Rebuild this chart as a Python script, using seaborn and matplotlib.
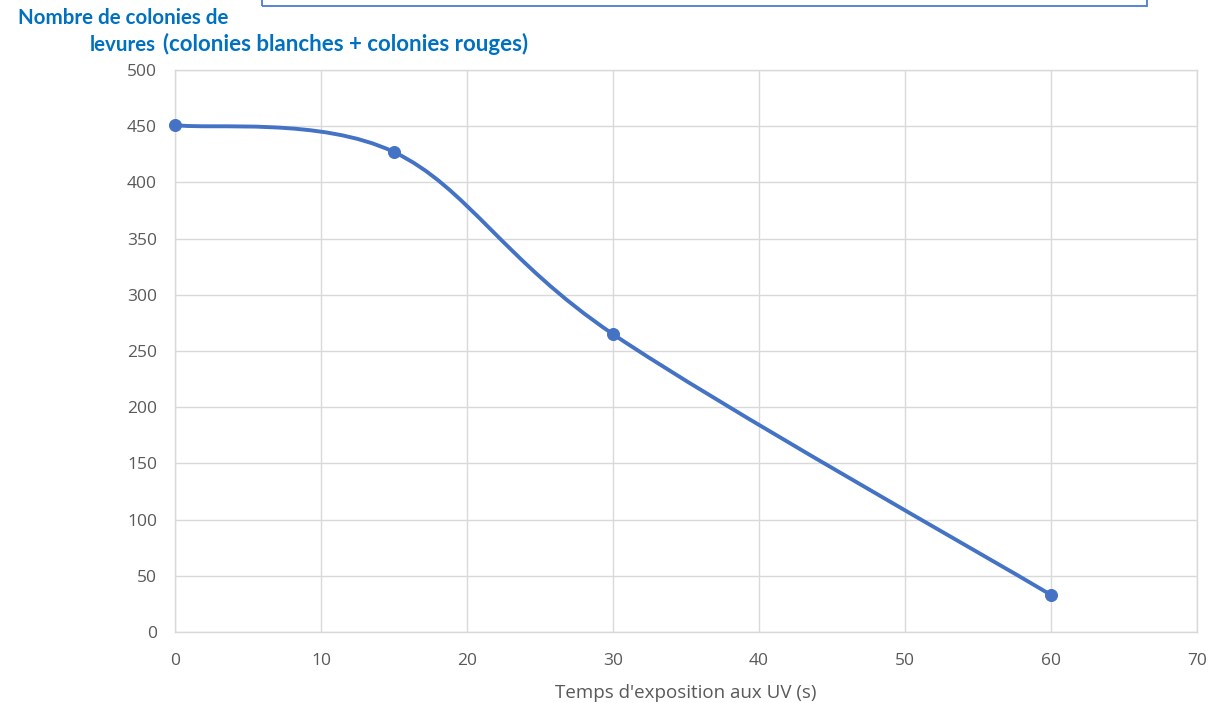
import numpy as np
import matplotlib
matplotlib.use("Agg")
import matplotlib.pyplot as plt
from matplotlib.path import Path
from matplotlib.patches import PathPatch, Rectangle
import seaborn as sns

# donnees
temps = [0, 15, 30, 60]
colonies = [451, 427, 265, 33]
x_ticks = [0, 10, 20, 30, 40, 50, 60, 70]
y_ticks = [0, 50, 100, 150, 200, 250, 300, 350, 400, 450, 500]

sns.set_style("whitegrid")
plt.rcParams["font.family"] = ["Open Sans", "DejaVu Sans"]

BLEU = "#4472C4"
TITRE = "#0070C0"
GRIS = "#595959"
GRILLE = "#D9D9D9"

W, H = 1216, 703
fig = plt.figure(figsize=(W / 100, H / 100), dpi=100)
ax = fig.add_axes([175 / W, 1 - 632 / H, (1197 - 175) / W, (632 - 70) / H])

# courbe lissee facon Excel (bezier type Catmull-Rom entre les points)
pts = np.column_stack([temps, colonies]).astype(float)
ext = np.vstack([pts[0], pts, pts[-1]])
verts = [tuple(pts[0])]
codes = [Path.MOVETO]
for i in range(len(pts) - 1):
    p0, p1, p2, p3 = ext[i], ext[i + 1], ext[i + 2], ext[i + 3]
    c1 = p1 + (p2 - p0) / 6
    c2 = p2 - (p3 - p1) / 6
    verts += [tuple(c1), tuple(c2), tuple(p2)]
    codes += [Path.CURVE4] * 3
ax.add_patch(PathPatch(Path(verts, codes), facecolor="none", edgecolor=BLEU,
                       lw=2.8, zorder=3, capstyle="round"))
sns.scatterplot(x=temps, y=colonies, color=BLEU, s=75, edgecolor=BLEU,
                ax=ax, zorder=4, clip_on=False)

ax.set_xlim(0, 70)
ax.set_ylim(0, 500)
ax.set_xticks(x_ticks)
ax.set_yticks(y_ticks)
ax.grid(True, color=GRILLE, lw=1)
for s in ax.spines.values():
    s.set_color(GRILLE)
    s.set_linewidth(1)
ax.tick_params(axis="y", length=6, width=1, color=GRILLE, labelcolor=GRIS,
               labelsize=12.5, pad=7)
ax.tick_params(axis="x", length=0, labelcolor=GRIS, labelsize=12.5, pad=15)
ax.set_xlabel("Temps d'exposition aux UV (s)", color=GRIS, fontsize=13.5, labelpad=11)
ax.set_ylabel("")

# titre de l'axe vertical (en haut a gauche)
police = ["Lato", "DejaVu Sans"]
fig.text(18 / W, 1 - 24 / H, "Nombre de colonies de", ha="left", va="baseline",
         color=TITRE, fontsize=14.8, fontweight="bold", family=police)
fig.text(156 / W, 1 - 51 / H, "levures", ha="right", va="baseline",
         color=TITRE, fontsize=14.8, fontweight="bold", family=police)
fig.text(163 / W, 1 - 51 / H, "(colonies blanches + colonies rouges)", ha="left",
         va="baseline", color=TITRE, fontsize=16, fontweight="bold", family=police)

# cadre coupe en haut
fig.add_artist(Rectangle((262 / W, 1 - 6 / H), (1147 - 262) / W, 0.05,
                         transform=fig.transFigure, fill=False,
                         edgecolor="#4A7BD6", lw=1.3))

fig.savefig("out.png", dpi=100)
